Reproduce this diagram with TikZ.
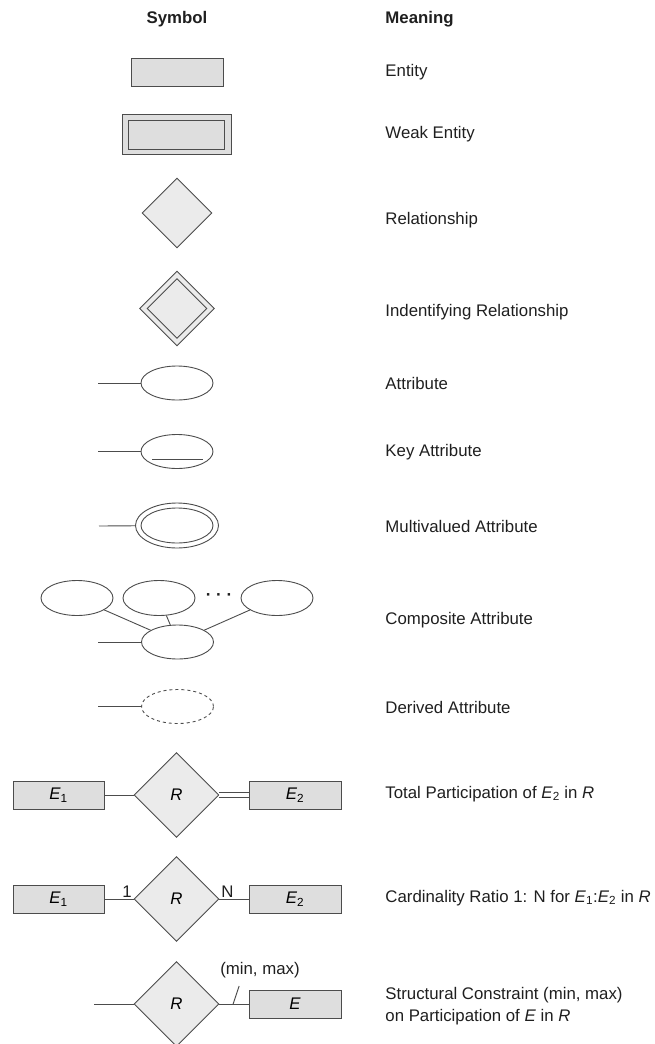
\documentclass[tikz,border=0pt]{standalone}
\usepackage{fontspec}
\setmainfont{Liberation Sans}
\usetikzlibrary{shapes.geometric}

\definecolor{boxfill}{gray}{0.87}
\definecolor{diafill}{gray}{0.92}
\definecolor{edge}{gray}{0.3}
\definecolor{ink}{gray}{0.12}

\tikzset{
	er/.style = {draw = edge, line width = 0.9pt, inner sep = 0pt},
	entity/.style = {er, rectangle, fill = boxfill, minimum width = 92pt, minimum height = 28pt},
	rel/.style = {er, diamond, aspect = 1, fill = diafill},
	attr/.style = {er, ellipse, minimum width = 72pt, minimum height = 34pt},
	meaning/.style = {anchor = west, text = ink, align = left, inner sep = 0pt}
}

\begin{document}
\begin{tikzpicture}[x = 1pt, y = -1pt, font = \fontsize{16.8}{22}\selectfont, line width = 0.9pt, draw = edge]

	\useasboundingbox (0, 0) rectangle (655, 1044);

	% Column headers

	\node [text = ink, font = \fontsize{16.8}{22}\selectfont\bfseries] (hsym) at (177, 19) {Symbol};
	\node [meaning, font = \fontsize{16.8}{22}\selectfont\bfseries] (hmean) at (385, 19) {Meaning};

	% Entity and weak entity

	\node [entity] (ent) at (177, 72) {};
	\node [meaning] (ment) at (385, 72) {Entity};

	\node [entity, minimum width = 109pt, minimum height = 40pt] (wkout) at (176.5, 134) {};
	\node [entity, minimum width = 96pt, minimum height = 29pt] (wkin) at (176.5, 134.5) {};
	\node [meaning] (mwk) at (385, 134) {Weak Entity};

	% Relationship and identifying relationship

	\node [rel, minimum size = 70pt] (rel) at (177, 213) {};
	\node [meaning] (mrel) at (385, 220) {Relationship};

	\node [rel, minimum size = 75pt] (idout) at (177, 308.5) {};
	\node [rel, minimum size = 60pt] (idin) at (177, 308.5) {};
	\node [meaning] (mid) at (385, 312) {Indentifying Relationship};

	% Attributes

	\node [attr] (att) at (177, 383) {};
	\coordinate (attstub) at (98, 383);
	\draw (attstub) -- (att);
	\node [meaning] (matt) at (385, 383) {Attribute};

	\node [attr] (key) at (177, 451.5) {};
	\coordinate (keystub) at (98, 451.5);
	\draw (keystub) -- (key);
	\draw (152, 459) -- (203, 459);
	\node [meaning] (mkey) at (385, 452) {Key Attribute};

	\node [attr, minimum width = 83pt, minimum height = 45pt] (mvout) at (177, 525.5) {};
	\node [attr, minimum width = 72pt, minimum height = 35pt] (mvin) at (177, 525.5) {};
	\coordinate (mvstub) at (99, 526);
	\draw (mvstub) -- (mvout);
	\node [meaning] (mmv) at (385, 526) {Multivalued Attribute};

	% Composite attribute

	\node [attr, minimum height = 35pt] (ctop1) at (77, 598) {};
	\node [attr, minimum height = 35pt] (ctop2) at (159, 598) {};
	\node [attr, minimum height = 35pt] (ctop3) at (277, 598) {};
	\node [text = ink, font = \fontsize{17}{17}\selectfont\bfseries] (cdots) at (219, 597) {· · ·};
	\node [attr] (cbase) at (177.5, 642) {};
	\coordinate (cstub) at (98, 642);
	\foreach \c in {ctop1, ctop2, ctop3}
		\draw (\c) -- (cbase);
	\draw (cstub) -- (cbase);
	\node [meaning] (mcomp) at (385, 620) {Composite Attribute};

	% Derived attribute

	\node [attr, dashed] (der) at (177.5, 706.5) {};
	\coordinate (derstub) at (98, 706.5);
	\draw (derstub) -- (der);
	\node [meaning] (mder) at (385, 707) {Derived Attribute};

	% Total participation

	\node [entity, minimum width = 91pt] (tpa) at (58.5, 795) {\textit{E}\textsubscript{1}};
	\node [rel, minimum size = 85pt] (tpr) at (176.5, 795) {\textit{R}};
	\node [entity] (tpb) at (295, 795) {\textit{E}\textsubscript{2}};
	\draw (tpa) -- (tpr);
	\draw [double = white, double distance = 3.5pt] (tpr.east) -- (tpb.west);
	\node [meaning] (mtp) at (385, 794) {Total Participation of \textit{E}\textsubscript{2} in \textit{R}};

	% Cardinality ratio

	\node [entity, minimum width = 91pt] (cra) at (58.5, 899) {\textit{E}\textsubscript{1}};
	\node [rel, minimum size = 85pt] (crr) at (176.5, 899) {\textit{R}};
	\node [entity] (crb) at (295, 899) {\textit{E}\textsubscript{2}};
	\draw (cra) -- node [pos = 1, above left, inner sep = 1.5pt, text = ink] (one) {1} (crr.west);
	\draw (crr.east) -- node [pos = 0, above right, inner sep = 1.5pt, text = ink] (many) {N} (crb);
	\node [meaning] (mcr) at (385, 898) {Cardinality Ratio 1: N for \textit{E}\textsubscript{1}:\textit{E}\textsubscript{2} in \textit{R}};

	% Structural constraint

	\coordinate (scstub) at (94, 1004);
	\node [rel, minimum size = 85pt] (scr) at (176.5, 1004) {\textit{R}};
	\node [entity] (sce) at (295, 1004) {\textit{E}};
	\draw (scstub) -- (scr);
	\draw (scr.east) -- coordinate [pos = 0.47] (tick) (sce);
	\draw (tick) -- ++(6, -18);
	\node [text = ink] (minmax) at (260, 970) {(min, max)};
	\node [meaning] (msc) at (385, 1006) {Structural Constraint (min, max)\\on Participation of \textit{E} in \textit{R}};

\end{tikzpicture}
\end{document}
